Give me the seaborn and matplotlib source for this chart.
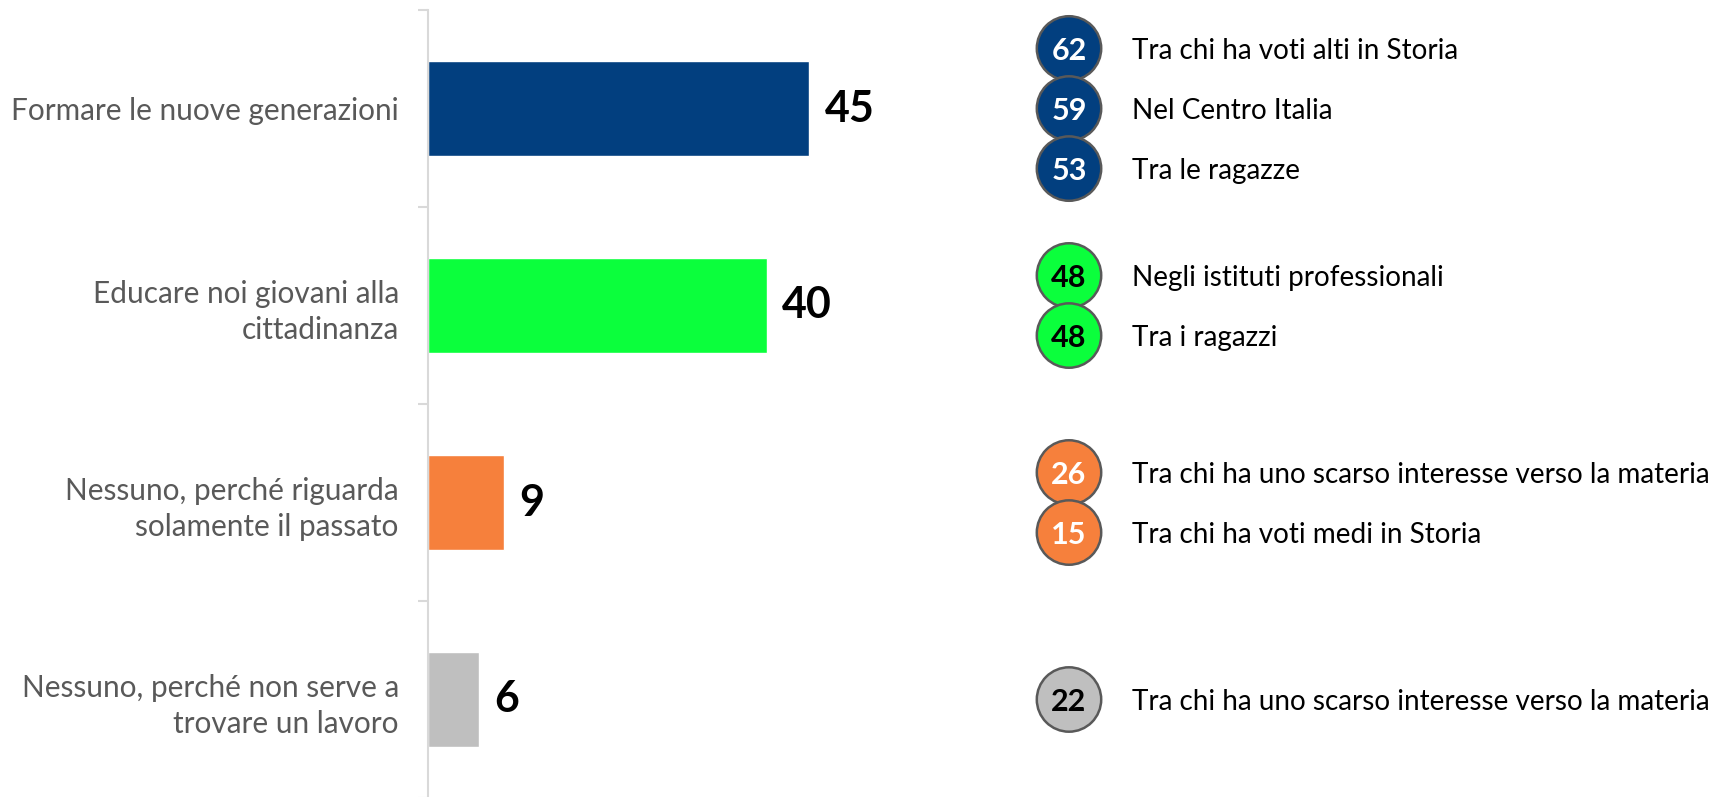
import matplotlib
matplotlib.use("Agg")
import matplotlib.pyplot as plt
import seaborn as sns
import pandas as pd

categories = [
    "Formare le nuove generazioni",
    "Educare noi giovani alla\ncittadinanza",
    "Nessuno, perché riguarda\nsolamente il passato",
    "Nessuno, perché non serve a\ntrovare un lavoro",
]
values = [45, 40, 9, 6]
colors = ["#023F7F", "#0BFF3C", "#F6803C", "#BFBFBF"]

# highlights per category
hl_values = [[62, 59, 53], [48, 48], [26, 15], [22]]
hl_labels = [
    ["Tra chi ha voti alti in Storia", "Nel Centro Italia", "Tra le ragazze"],
    ["Negli istituti professionali", "Tra i ragazzi"],
    ["Tra chi ha uno scarso interesse verso la materia", "Tra chi ha voti medi in Storia"],
    ["Tra chi ha uno scarso interesse verso la materia"],
]
hl_text_colors = ["white", "black", "white", "black"]

sns.set_style("white")
plt.rcParams["font.family"] = ["Lato", "DejaVu Sans"]

W, H = 1729, 797
fig = plt.figure(figsize=(W / 100, H / 100), dpi=100)

ax = fig.add_axes([428 / W, -1 / H, 572 / W, 788 / H])
df = pd.DataFrame({"cat": categories, "val": values})
sns.barplot(data=df, x="val", y="cat", hue="cat", palette=colors, legend=False,
            width=0.48, saturation=1, ax=ax)
ax.set_xlim(0, 572 / 8.47)
ax.set_ylim(3.5, -0.5)
ax.set_xlabel("")
ax.set_ylabel("")
ax.set_xticks([])
ax.set_yticks(range(len(categories)))
ax.set_yticklabels(categories, fontsize=21.4, color="#595959", linespacing=1.35)
ax.tick_params(axis="y", length=0, pad=21)
ax.set_yticks([-0.5, 0.5, 1.5, 2.5, 3.5], minor=True)
ax.tick_params(axis="y", which="minor", left=True, length=7.5, width=1.5,
               color="#D9D9D9")
for s in ["top", "right", "bottom"]:
    ax.spines[s].set_visible(False)
ax.spines["left"].set_color("#D9D9D9")
ax.spines["left"].set_linewidth(1.5)
for c in ax.containers:
    ax.bar_label(c, fmt="%d", padding=11, fontsize=31, fontweight="bold", color="black")

# right-hand highlights, sharing the category scale
ax2 = fig.add_axes([1000 / W, -1 / H, 729 / W, 788 / H], sharey=ax)
ax2.set_xlim(1000, 1729)
ax2.axis("off")
step = 0.305
rows = []
for i, (vals, labs) in enumerate(zip(hl_values, hl_labels)):
    n = len(vals)
    for k, (v, lab) in enumerate(zip(vals, labs)):
        rows.append({"y": i + (k - (n - 1) / 2) * step, "v": v, "lab": lab, "g": i})
hdf = pd.DataFrame(rows)
sns.scatterplot(data=hdf, x=[1069] * len(hdf), y="y", hue="g", palette=colors,
                s=2150, edgecolor="#595959", linewidth=1.8, legend=False, ax=ax2,
                zorder=3)
for _, r in hdf.iterrows():
    ax2.text(1069, r["y"], str(r["v"]), ha="center", va="center_baseline",
             fontsize=22, fontweight="bold", color=hl_text_colors[int(r["g"])], zorder=4)
    ax2.text(1132, r["y"], r["lab"], ha="left", va="center_baseline",
             fontsize=20.1, color="black")
ax2.set_ylim(3.5, -0.5)

fig.savefig("out.png", dpi=100)
